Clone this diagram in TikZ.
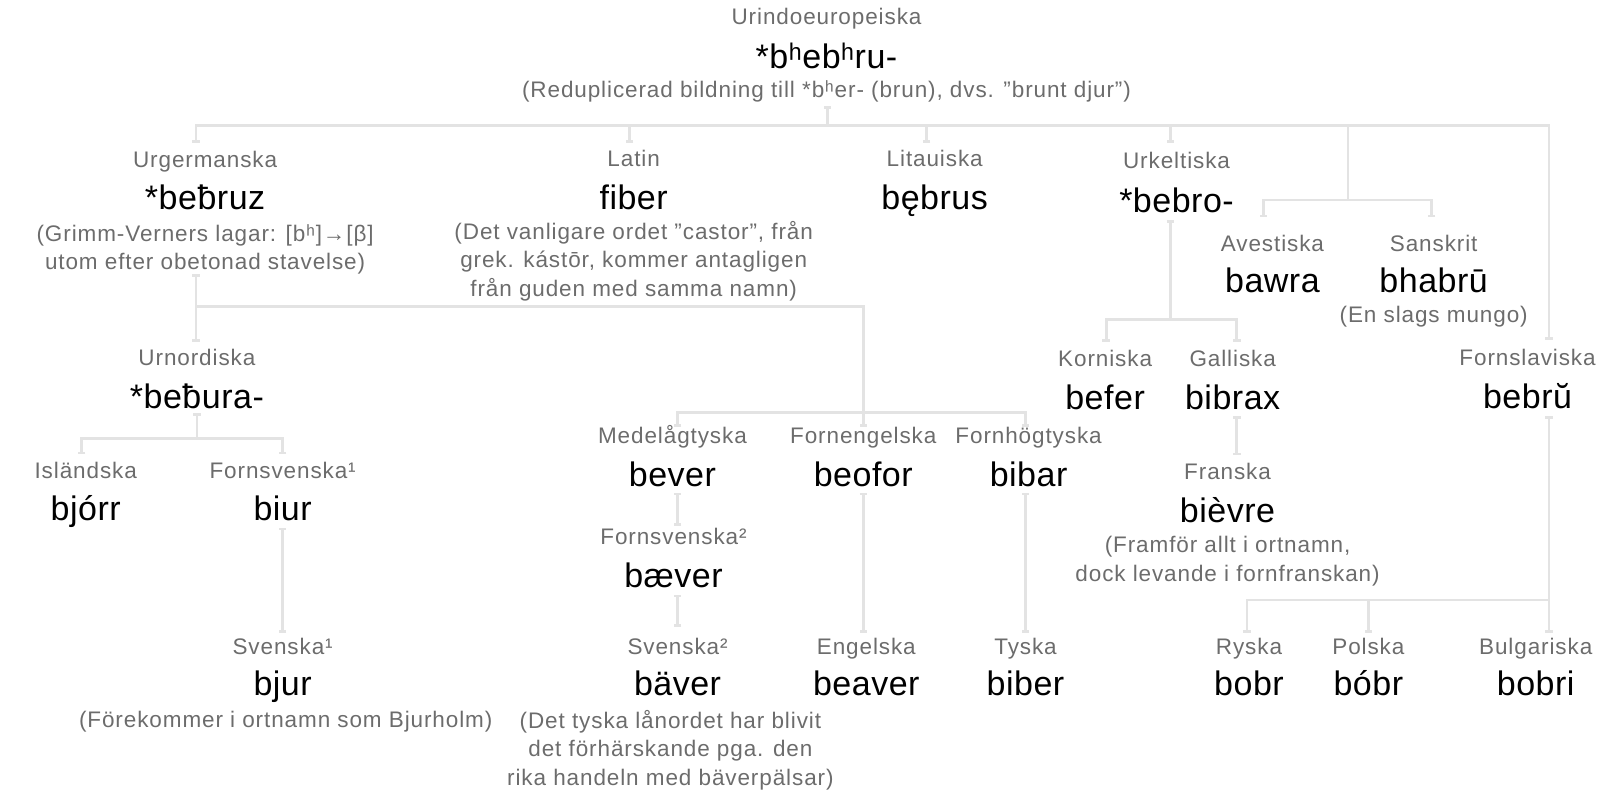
\documentclass[tikz,border=0pt]{standalone}
\usepackage{fontspec}
\setmainfont{Liberation Sans}
\newfontfamily\lblfont[LetterSpace=4]{Liberation Sans}
\newfontfamily\wrdfont[LetterSpace=1.5]{Liberation Sans}
\usetikzlibrary{arrows.meta}
\definecolor{lbl}{RGB}{108,108,108}
\definecolor{ln}{RGB}{227,227,227}
\tikzset{
  lang/.style={anchor=base, inner sep=0pt, text=lbl, font=\fontsize{22.5}{27}\lblfont},
  word/.style={anchor=base, inner sep=0pt, text=black, font=\fontsize{34}{40}\wrdfont},
  note/.style={anchor=north, inner sep=0pt, text=lbl, align=center, font=\fontsize{22.5}{28.6}\lblfont},
  link/.style={draw=ln, line width=2.8pt},
}
\begin{document}
\begin{tikzpicture}[x=1.020408pt, y=-1.020408pt, >={Bar[width=7.5pt,line width=2.4pt]}]
\useasboundingbox (0,0) rectangle (1568,784);
% ---- nodes ----
\node[lang] (rootL) at (810,24) {Urindoeuropeiska};
\node[word] (rootW) at (810,67) {*bʰebʰru-};
\node[note] (rootN) at (810,78.5) {(Reduplicerad bildning till *bʰer- (brun), dvs. ”brunt djur”)};

\node[lang] (urgL) at (201,164) {Urgermanska};
\node[word] (urgW) at (201,205) {*beƀruz};
\node[note] (urgN) at (201,219.5) {(Grimm-Verners lagar: [bʰ]→[β]\\utom efter obetonad stavelse)};

\node[lang] (latL) at (621,163) {Latin};
\node[word] (latW) at (621,205) {fiber};
\node[note] (latN) at (621,216.5) {(Det vanligare ordet ”castor”, från\\grek. kástōr, kommer antagligen\\från guden med samma namn)};

\node[lang] (litL) at (916,163) {Litauiska};
\node[word] (litW) at (916,205) {bębrus};

\node[lang] (kelL) at (1153,165) {Urkeltiska};
\node[word] (kelW) at (1153,208) {*bebro-};

\node[lang] (aveL) at (1247,246) {Avestiska};
\node[word] (aveW) at (1247,287) {bawra};
\node[lang] (sanL) at (1405,246) {Sanskrit};
\node[word] (sanW) at (1405,287) {bhabrū};
\node[note] (sanN) at (1405,299.5) {(En slags mungo)};

\node[lang] (fslL) at (1497,358) {Fornslaviska};
\node[word] (fslW) at (1497,400) {bebrŭ};

\node[lang] (unoL) at (193,358) {Urnordiska};
\node[word] (unoW) at (193,400) {*beƀura-};
\node[lang] (islL) at (84,469) {Isländska};
\node[word] (islW) at (84,510) {bjórr};
\node[lang] (fsv1L) at (277,469) {Fornsvenska¹};
\node[word] (fsv1W) at (277,510) {biur};
\node[lang] (sv1L) at (277,641) {Svenska¹};
\node[word] (sv1W) at (277,682) {bjur};
\node[note] (sv1N) at (280,696.5) {(Förekommer i ortnamn som Bjurholm)};

\node[lang] (mltL) at (659,435) {Medelågtyska};
\node[word] (mltW) at (659,477) {bever};
\node[lang] (fsv2L) at (660,534) {Fornsvenska²};
\node[word] (fsv2W) at (660,576) {bæver};
\node[lang] (sv2L) at (664,641) {Svenska²};
\node[word] (sv2W) at (664,682) {bäver};
\node[note] (sv2N) at (657,695.5) {(Det tyska lånordet har blivit\\det förhärskande pga. den\\rika handeln med bäverpälsar)};

\node[lang] (feL) at (846,435) {Fornengelska};
\node[word] (feW) at (846,477) {beofor};
\node[lang] (enL) at (849,641) {Engelska};
\node[word] (enW) at (849,682) {beaver};

\node[lang] (fhtL) at (1008,435) {Fornhögtyska};
\node[word] (fhtW) at (1008,477) {bibar};
\node[lang] (tyL) at (1005,641) {Tyska};
\node[word] (tyW) at (1005,682) {biber};

\node[lang] (korL) at (1083,359) {Korniska};
\node[word] (korW) at (1083,401) {befer};
\node[lang] (galL) at (1208,359) {Galliska};
\node[word] (galW) at (1208,401) {bibrax};
\node[lang] (frL) at (1203,470) {Franska};
\node[word] (frW) at (1203,512) {bièvre};
\node[note] (frN) at (1203,525.5) {(Framför allt i ortnamn,\\dock levande i fornfranskan)};

\node[lang] (ryL) at (1224,641) {Ryska};
\node[word] (ryW) at (1224,682) {bobr};
\node[lang] (poL) at (1341,641) {Polska};
\node[word] (poW) at (1341,682) {bóbr};
\node[lang] (buL) at (1505,641) {Bulgariska};
\node[word] (buW) at (1505,682) {bobri};

% ---- connector end points ----
\coordinate (rootO) at (811,104);
\coordinate (urgI) at (192,140);
\coordinate (latI) at (617,140);
\coordinate (litI) at (908,140);
\coordinate (kelI) at (1147,140);
\coordinate (aveI) at (1238,213);
\coordinate (sanI) at (1403,213);
\coordinate (fslI) at (1518,333);
\coordinate (urgO) at (192,269);
\coordinate (unoI) at (192,335);
\coordinate (unoO) at (193,405);
\coordinate (islI) at (80,445);
\coordinate (fsv1I) at (277,445);
\coordinate (fsv1O) at (277,517);
\coordinate (sv1I) at (277,620);
\coordinate (mltI) at (664,418);
\coordinate (feI) at (846,418);
\coordinate (fhtI) at (1005,418);
\coordinate (mltO) at (664,483);
\coordinate (fsv2I) at (664,515);
\coordinate (fsv2O) at (664,583);
\coordinate (sv2I) at (664,614);
\coordinate (feO) at (846,483);
\coordinate (enI) at (846,620);
\coordinate (fhtO) at (1005,483);
\coordinate (tyI) at (1005,620);
\coordinate (kelO) at (1147,216);
\coordinate (korI) at (1084,335);
\coordinate (galI) at (1212,335);
\coordinate (galO) at (1212,408);
\coordinate (frI) at (1212,446);
\coordinate (fslO) at (1518,408);
\coordinate (ryI) at (1222,620);
\coordinate (poI) at (1341,620);
\coordinate (buI) at (1518,620);

% ---- connectors ----
\draw[link,<-] (rootO) -- (811,123);
\draw[link,<->] (urgI) -- (192,123) -- (1518,123) -- (fslI);
\draw[link,->] (617,123) -- (latI);
\draw[link,->] (908,123) -- (litI);
\draw[link,->] (1147,123) -- (kelI);
\draw[link] (1321,123) -- (1321,196);
\draw[link,<->] (aveI) -- (1238,196) -- (1403,196) -- (sanI);

\draw[link,<->] (urgO) -- (unoI);
\draw[link,->] (192,300) -- (846,300) -- (feI);
\draw[link,<->] (mltI) -- (664,404) -- (1005,404) -- (fhtI);

\draw[link,<-] (unoO) -- (193,430);
\draw[link,<->] (islI) -- (80,430) -- (277,430) -- (fsv1I);
\draw[link,<->] (fsv1O) -- (sv1I);

\draw[link,<->] (mltO) -- (fsv2I);
\draw[link,<->] (fsv2O) -- (sv2I);
\draw[link,<->] (feO) -- (enI);
\draw[link,<->] (fhtO) -- (tyI);

\draw[link,<-] (kelO) -- (1147,313);
\draw[link,<->] (korI) -- (1084,313) -- (1212,313) -- (galI);
\draw[link,<->] (galO) -- (frI);

\draw[link,<->] (fslO) -- (buI);
\draw[link,<-] (ryI) -- (1222,588) -- (1518,588);
\draw[link,->] (1341,588) -- (poI);
\end{tikzpicture}
\end{document}
